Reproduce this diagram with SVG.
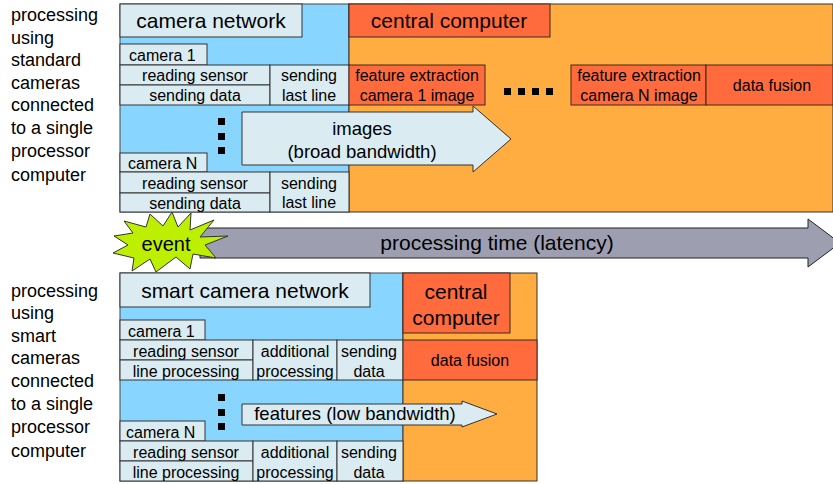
<svg xmlns="http://www.w3.org/2000/svg" width="833" height="484" viewBox="0 0 833 484">
  <style>
    text { font-family: "Liberation Sans", Arial, sans-serif; fill: #000; }
    .side { font-size: 18px; }
    .big { font-size: 21px; text-anchor: middle; }
    .mid { font-size: 18.5px; text-anchor: middle; }
    .sm { font-size: 16px; text-anchor: middle; }
    .lbl { font-size: 16px; }
    .net { fill: #88D6FF; stroke: #444; stroke-width: 1; }
    .cpu { fill: #FFAC40; stroke: #333; stroke-width: 1; }
    .box { fill: #DAECF1; stroke: #333; stroke-width: 1; }
    .hot { fill: #FF6B3C; stroke: #3a2a20; stroke-width: 1; }
    .dot { fill: #000; }
  </style>

  <!-- side captions -->
  <g id="caption-standard" class="side">
    <text x="11" y="21">processing</text>
    <text x="11" y="44">using</text>
    <text x="11" y="66">standard</text>
    <text x="11" y="89">cameras</text>
    <text x="11" y="111">connected</text>
    <text x="11" y="134">to a single</text>
    <text x="11" y="157">processor</text>
    <text x="11" y="181">computer</text>
  </g>
  <g id="caption-smart" class="side">
    <text x="11" y="297">processing</text>
    <text x="11" y="319">using</text>
    <text x="11" y="342">smart</text>
    <text x="11" y="364">cameras</text>
    <text x="11" y="387">connected</text>
    <text x="11" y="410">to a single</text>
    <text x="11" y="433">processor</text>
    <text x="11" y="457">computer</text>
  </g>

  <!-- upper timeline: standard cameras -->
  <g id="camera-network">
    <rect class="net" x="120" y="4" width="229" height="208"/>
    <rect class="box" x="120" y="4" width="182" height="33"/>
    <text class="big" x="211" y="28">camera network</text>
  </g>
  <g id="central-computer">
    <rect class="cpu" x="349" y="4" width="484" height="208"/>
    <rect class="hot" x="349" y="4" width="201" height="33"/>
    <text class="big" x="449" y="28">central computer</text>
  </g>
  <g id="camera-1">
    <rect class="box" x="120" y="44" width="87" height="21"/>
    <text class="lbl" x="129" y="61">camera 1</text>
    <rect class="box" x="120" y="65" width="150" height="20"/>
    <text class="sm" x="195" y="81">reading sensor</text>
    <rect class="box" x="120" y="85" width="150" height="20"/>
    <text class="sm" x="195" y="101">sending data</text>
    <rect class="box" x="270" y="65" width="79" height="40"/>
    <text class="sm" x="309" y="81">sending</text>
    <text class="sm" x="309" y="101">last line</text>
  </g>
  <g id="camera-n">
    <rect class="box" x="120" y="153" width="87" height="19"/>
    <text class="lbl" x="128" y="169">camera N</text>
    <rect class="box" x="120" y="172" width="150" height="21"/>
    <text class="sm" x="195" y="189">reading sensor</text>
    <rect class="box" x="120" y="193" width="150" height="19"/>
    <text class="sm" x="195" y="209">sending data</text>
    <rect class="box" x="270" y="172" width="79" height="40"/>
    <text class="sm" x="309" y="189">sending</text>
    <text class="sm" x="309" y="208">last line</text>
  </g>
  <g id="feature-1">
    <rect class="hot" x="349" y="65" width="136" height="40"/>
    <text class="sm" x="417" y="81">feature extraction</text>
    <text class="sm" x="417" y="101">camera 1 image</text>
  </g>
  <g id="feature-n">
    <rect class="hot" x="571" y="65" width="135" height="40"/>
    <text class="sm" x="639" y="81">feature extraction</text>
    <text class="sm" x="639" y="101">camera N image</text>
  </g>
  <g id="fusion-upper">
    <rect class="hot" x="706" y="65" width="127" height="40"/>
    <text class="sm" x="772" y="91">data fusion</text>
  </g>
  <g id="ellipsis-upper">
    <rect class="dot" x="218" y="118" width="7" height="7"/>
    <rect class="dot" x="218" y="133" width="7" height="7"/>
    <rect class="dot" x="218" y="147" width="7" height="7"/>
    <rect class="dot" x="504" y="88" width="7" height="7"/>
    <rect class="dot" x="518" y="88" width="7" height="7"/>
    <rect class="dot" x="532" y="88" width="7" height="7"/>
    <rect class="dot" x="546" y="88" width="7" height="7"/>
  </g>

  <!-- lower timeline: smart cameras -->
  <g id="smart-camera-network">
    <rect class="net" x="120" y="273" width="283" height="208"/>
    <rect class="box" x="120" y="273" width="250" height="34"/>
    <text class="big" x="245" y="298">smart camera network</text>
  </g>
  <g id="central-computer-smart">
    <rect class="cpu" x="403" y="273" width="134" height="208"/>
    <rect class="hot" x="403" y="273" width="107" height="60"/>
    <text class="big" x="456" y="299">central</text>
    <text class="big" x="456" y="325">computer</text>
  </g>
  <g id="smart-camera-1">
    <rect class="box" x="120" y="320" width="85" height="20"/>
    <text class="lbl" x="128" y="337">camera 1</text>
    <rect class="box" x="120" y="340" width="133" height="20"/>
    <text class="sm" x="186" y="357">reading sensor</text>
    <rect class="box" x="120" y="360" width="133" height="20"/>
    <text class="sm" x="186" y="377">line processing</text>
    <rect class="box" x="253" y="340" width="84" height="40"/>
    <text class="sm" x="295" y="357">additional</text>
    <text class="sm" x="295" y="377">processing</text>
    <rect class="box" x="337" y="340" width="66" height="40"/>
    <text class="sm" x="369" y="357">sending</text>
    <text class="sm" x="369" y="377">data</text>
  </g>
  <g id="smart-camera-n">
    <rect class="box" x="120" y="421" width="85" height="20"/>
    <text class="lbl" x="126" y="438">camera N</text>
    <rect class="box" x="120" y="441" width="133" height="20"/>
    <text class="sm" x="186" y="458">reading sensor</text>
    <rect class="box" x="120" y="461" width="133" height="20"/>
    <text class="sm" x="186" y="478">line processing</text>
    <rect class="box" x="253" y="441" width="84" height="40"/>
    <text class="sm" x="295" y="458">additional</text>
    <text class="sm" x="295" y="478">processing</text>
    <rect class="box" x="337" y="441" width="66" height="40"/>
    <text class="sm" x="369" y="458">sending</text>
    <text class="sm" x="369" y="478">data</text>
  </g>
  <g id="fusion-lower">
    <rect class="hot" x="403" y="340" width="134" height="40"/>
    <text class="sm" x="470" y="366">data fusion</text>
  </g>
  <g id="ellipsis-lower">
    <rect class="dot" x="218" y="394" width="7" height="7"/>
    <rect class="dot" x="218" y="409" width="7" height="7"/>
    <rect class="dot" x="218" y="423" width="7" height="7"/>
  </g>

  <!-- connectors: data transfer arrows and the latency axis -->
  <g id="connectors">
    <path class="box" d="M242,112 H473 V106 L511,139 L473,172 V165 H242 Z"/>
    <text class="mid" x="362" y="135">images</text>
    <text class="mid" x="362" y="158">(broad bandwidth)</text>

    <path d="M200,228 H808 V219 L840,243 L808,267 V258 H200 Z" fill="#9D9FB1" stroke="#222" stroke-width="1"/>
    <text x="497" y="250" font-size="21" text-anchor="middle">processing time (latency)</text>

    <path class="box" d="M242,404 H462 V401 L497,414 L462,427 V425 H242 Z"/>
    <text x="355" y="420" font-size="18.5" text-anchor="middle">features (low bandwidth)</text>
  </g>

  <g id="event">
    <polygon points="191,213 190,230 214,220 200,237 228,236 205,245 216,258 193,254 190,269 176,257 156,272 150,259 132,271 134,258 113,253 128,245 114,236 133,233 124,221 146,227 150,214 163,226 172,212 178,227" fill="#BDF000" stroke="#333" stroke-width="1"/>
    <text x="166" y="251" font-size="20" text-anchor="middle">event</text>
  </g>
</svg>
